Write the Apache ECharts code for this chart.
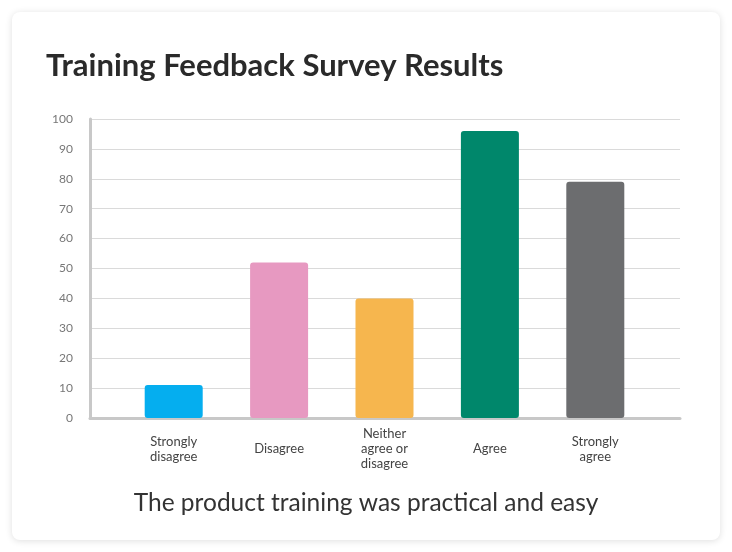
<!doctype html>
<html>
	<head>
		<meta charset="UTF-8">
		<title>Training Feedback Survey Results</title>
		<script src="https://cdn.jsdelivr.net/npm/echarts@6/dist/echarts.min.js"></script>
		<style type="text/css">
			html, body {
				margin: 0;
				padding: 0;
				background: #ffffff;
			}
			/* white card behind the chart */
			#card {
				position: absolute;
				left: 12px;
				top: 12px;
				width: 708px;
				height: 528px;
				background: #fff;
				border-radius: 8px;
				box-shadow: 0 1px 7px rgba(0, 0, 0, 0.13);
			}
			#main {
				position: absolute;
				left: 0;
				top: 0;
				width: 732px;
				height: 552px;
			}
		</style>
	</head>
	<body>
		<div id="card"></div>
		<div id="main"></div>
		<script type="text/javascript">
			// data
			var categories = ['Strongly\ndisagree', 'Disagree', 'Neither\nagree or\ndisagree', 'Agree', 'Strongly\nagree'];
			var values = [11, 52, 40, 96, 79];
			var barColors = ['#05aeef', '#e799c1', '#f6b64e', '#00876b', '#6c6d6f'];
			var yTicks = [0, 10, 20, 30, 40, 50, 60, 70, 80, 90, 100];

			var font = 'Lato';
			var chart = echarts.init(document.getElementById('main'), null, { renderer: 'canvas' });

			var barData = [];
			for (var i = 0; i < values.length; i++) {
				barData.push({ value: values[i], itemStyle: { color: barColors[i] } });
			}

			var option = {
				backgroundColor: 'transparent',
				animation: false,
				title: [
					{
						text: 'Training Feedback Survey Results',
						left: 41,
						top: 45,
						textStyle: { fontFamily: font, fontSize: 31, fontWeight: 'bold', color: '#2a2a2a' }
					},
					{
						text: 'The product training was practical and easy',
						left: 'center',
						top: 486,
						textStyle: { fontFamily: font, fontSize: 24.5, fontWeight: 'normal', color: '#333' }
					}
				],
				grid: [
					// gridlines and axes
					{ left: 90, right: 52, top: 119, bottom: 134 },
					// bars
					{ left: 121, right: 84, top: 119, bottom: 134 }
				],
				xAxis: [
					{
						gridIndex: 0,
						type: 'value',
						min: 0,
						max: 1,
						axisLine: { show: true, lineStyle: { color: '#c8c8c8', width: 3 } },
						axisTick: { show: false },
						axisLabel: { show: false },
						splitLine: { show: false }
					},
					{
						gridIndex: 1,
						type: 'category',
						data: categories,
						axisLine: { show: false },
						axisTick: { show: false },
						axisLabel: {
							margin: 31,
							verticalAlign: 'middle',
							fontFamily: font,
							fontSize: 13,
							lineHeight: 15,
							color: '#444'
						}
					}
				],
				yAxis: [
					{
						gridIndex: 0,
						type: 'value',
						min: yTicks[0],
						max: yTicks[yTicks.length - 1],
						interval: 10,
						axisLine: { show: true, lineStyle: { color: '#c8c8c8', width: 3 } },
						axisTick: { show: false },
						axisLabel: { margin: 17, fontFamily: font, fontSize: 12, color: '#777' },
						splitLine: { lineStyle: { color: '#dadada', width: 1 } }
					},
					{
						gridIndex: 1,
						type: 'value',
						min: yTicks[0],
						max: yTicks[yTicks.length - 1],
						show: false
					}
				],
				series: [
					{
						type: 'bar',
						xAxisIndex: 1,
						yAxisIndex: 1,
						barWidth: 58,
						data: barData,
						itemStyle: { borderRadius: 3 }
					}
				]
			};
			chart.setOption(option);
		</script>
	</body>
</html>
